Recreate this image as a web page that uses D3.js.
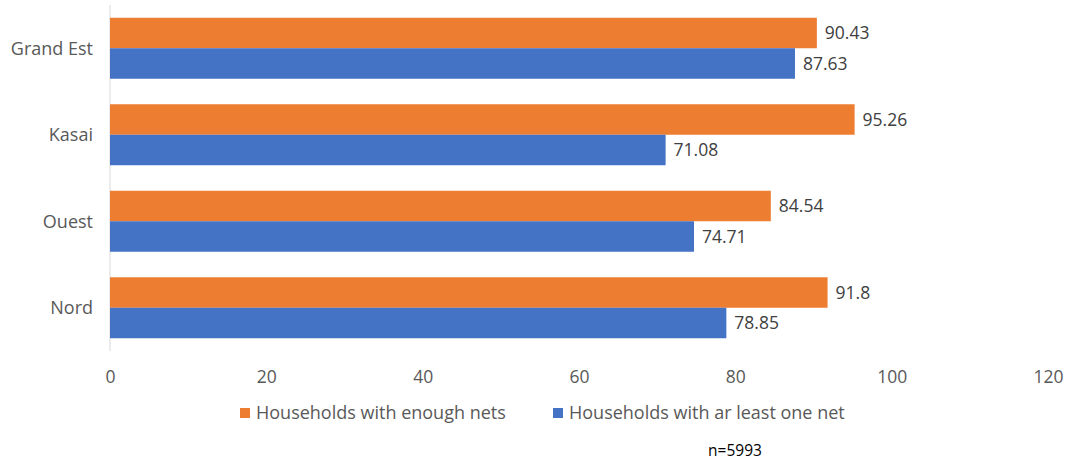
<!DOCTYPE html>
<html><head><meta charset="utf-8">
<script src="https://cdn.jsdelivr.net/npm/d3@7"></script>
<style>body{margin:0;background:#fff}svg{display:block}text{font-family:"Open Sans","Liberation Sans",sans-serif}</style>
</head><body>
<svg id="c" width="1068" height="463"></svg>
<script>
const categories = ["Grand Est","Kasai","Ouest","Nord"];
const seriesNames = ["Households with enough nets","Households with ar least one net"];
const enoughNets = [90.43, 95.26, 84.54, 91.8];
const atLeastOne = [87.63, 71.08, 74.71, 78.85];
const xTicks = [0,20,40,60,80,100,120];
const colors = ["#ED7D31","#4472C4"];
const note = "n=5993";

const svg = d3.select("#c");
const x = d3.scaleLinear().domain([0,120]).range([110,1048]);
const y = d3.scaleBand().domain(categories).range([5,351]).paddingInner(0.295).paddingOuter(0.1475);
const sub = d3.scaleBand().domain([0,1]).range([0,y.bandwidth()]);

// axis line
svg.append("line").attr("x1",x(0)).attr("x2",x(0)).attr("y1",5).attr("y2",351)
  .attr("stroke","#d9d9d9").attr("stroke-width",1);

const series = [enoughNets, atLeastOne];
series.forEach((vals,si)=>{
  const g = svg.append("g");
  g.selectAll("rect").data(categories).join("rect")
    .attr("x",x(0)).attr("y",c=>y(c)+sub(si))
    .attr("width",(c,i)=>x(vals[i])-x(0)).attr("height",sub.bandwidth())
    .attr("fill",colors[si]);
  g.selectAll("text").data(categories).join("text")
    .attr("x",(c,i)=>x(vals[i])+8).attr("y",c=>y(c)+sub(si)+sub.bandwidth()/2)
    .attr("dy","0.35em").attr("font-size",17.5).attr("fill","#404040")
    .text((c,i)=>vals[i]);
});

// category labels
svg.append("g").selectAll("text").data(categories).join("text")
  .attr("x",93).attr("y",c=>y(c)+y.bandwidth()/2).attr("dy","0.35em")
  .attr("text-anchor","end").attr("font-size",18).attr("fill","#595959").text(c=>c);

// x tick labels
const xa = d3.axisBottom(x).tickValues(xTicks).tickSize(0).tickPadding(0);
const ag = svg.append("g").attr("transform","translate(0,371)").call(xa);
ag.select(".domain").remove();
ag.selectAll("text").attr("font-size",17.5).attr("fill","#595959")
  .attr("font-family","'Open Sans','Liberation Sans',sans-serif");

// legend
const legX = [240,553];
seriesNames.forEach((n,i)=>{
  svg.append("rect").attr("x",legX[i]).attr("y",408).attr("width",10).attr("height",10).attr("fill",colors[i]);
  svg.append("text").attr("x",legX[i]+16).attr("y",413).attr("dy","0.35em")
    .attr("font-size",18).attr("fill","#595959").text(n);
});

svg.append("text").attr("x",735).attr("y",451).attr("dy","0.35em").attr("text-anchor","middle")
  .attr("font-size",15.5).attr("fill","#000").text(note);
</script>
</body></html>
